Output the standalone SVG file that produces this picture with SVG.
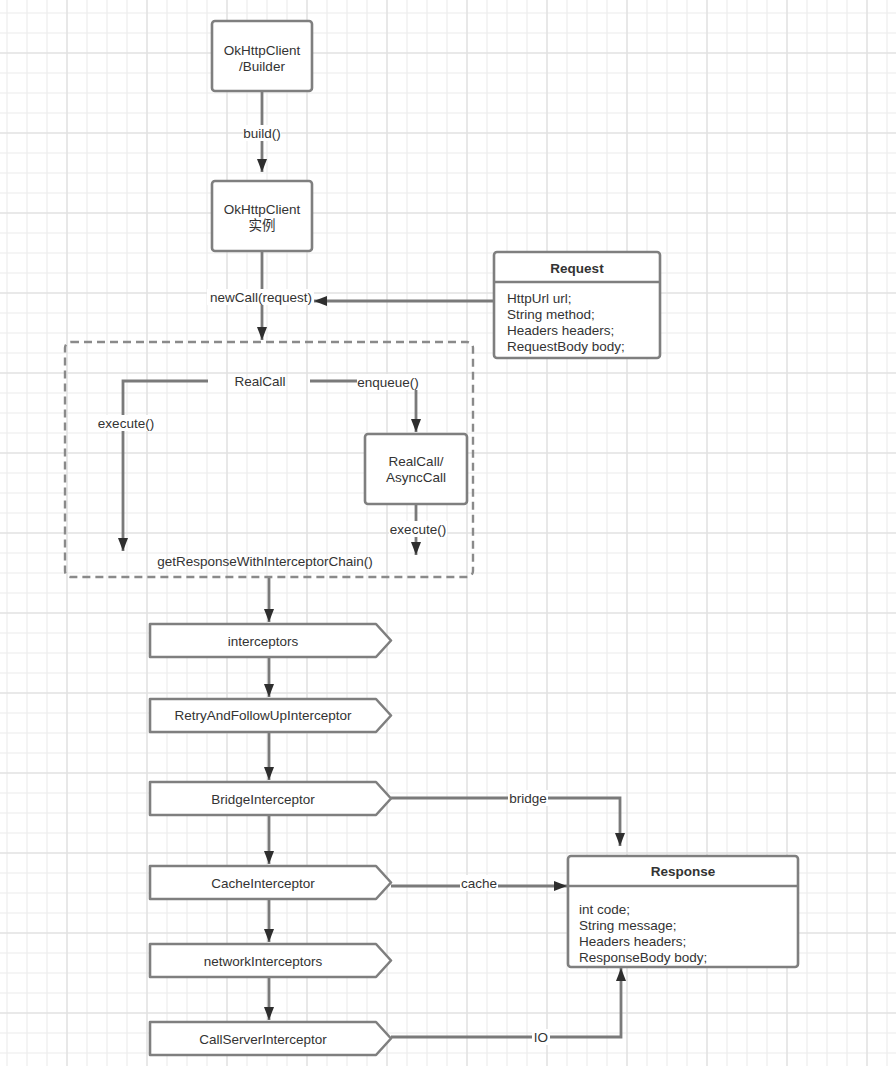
<svg xmlns="http://www.w3.org/2000/svg" width="896" height="1070" viewBox="0 0 896 1070">
<defs>
<style>
text{font-family:"Liberation Sans","Noto Sans CJK SC",sans-serif;font-size:13.5px;fill:#333}
.b{font-weight:bold}
.m{text-anchor:middle}
.box{fill:#fff;stroke:#7f7f7f;stroke-width:2.6}
.sep{stroke:#7f7f7f;stroke-width:2.6}
.dash{fill:none;stroke:#8a8a8a;stroke-width:2.4;stroke-dasharray:8 5}
.edge{fill:none;stroke:#7a7a7a;stroke-width:2.8;marker-end:url(#ah)}
.lbg{fill:#fff}
</style>
<marker id="ah" markerUnits="userSpaceOnUse" viewBox="0 0 13 10" refX="13" refY="5" markerWidth="13" markerHeight="10" orient="auto">
<path d="M0,0 L13,5 L0,10 z" fill="#2e2e2e"/>
</marker>
<pattern id="grid" patternUnits="userSpaceOnUse" x="-3" y="3" width="80" height="80">
<g stroke="#ececec" stroke-width="1.2">
<line x1="10" y1="0" x2="10" y2="80"/><line x1="30" y1="0" x2="30" y2="80"/><line x1="50" y1="0" x2="50" y2="80"/>
<line x1="0" y1="10" x2="80" y2="10"/><line x1="0" y1="30" x2="80" y2="30"/><line x1="0" y1="70" x2="80" y2="70"/>
</g>
<g stroke="#e2e2e2" stroke-width="1.6">
<line x1="70" y1="0" x2="70" y2="80"/><line x1="0" y1="50" x2="80" y2="50"/>
</g>
</pattern>
</defs>
<rect width="896" height="1070" fill="#fff"/>
<rect width="896" height="1066" fill="url(#grid)"/>

<g id="connectors">
<path class="edge" d="M262,92 V172"/>
<path class="edge" d="M262,252 V340"/>
<path class="edge" d="M493,301 H314"/>
<path class="edge" d="M208,381 H123 V551"/>
<path class="edge" d="M310,381 H416 V432"/>
<path class="edge" d="M416,505 V555"/>
<path class="edge" d="M269,578 V622"/>
<path class="edge" d="M269,657 V697"/>
<path class="edge" d="M269,732 V780"/>
<path class="edge" d="M269,815 V864"/>
<path class="edge" d="M269,899 V942"/>
<path class="edge" d="M269,977 V1020"/>
<path class="edge" d="M391,798 H620 V846"/>
<path class="edge" d="M391,886 H567"/>
<path class="edge" d="M391,1037 H621 V968"/>
<g id="edge-labels">
<rect class="lbg" x="243" y="125" width="38" height="16"/><text class="m" x="262" y="137.5">build()</text>
<rect class="lbg" x="207" y="289" width="107" height="16"/><text class="m" x="261" y="301.5">newCall(request)</text>
<rect class="lbg" x="97" y="415" width="58" height="16"/><text class="m" x="126" y="427.5">execute()</text>
<rect class="lbg" x="357" y="374" width="62" height="16"/><text class="m" x="388" y="387">enqueue()</text>
<rect class="lbg" x="389" y="521" width="58" height="16"/><text class="m" x="418" y="533.5">execute()</text>
<rect class="lbg" x="508" y="790" width="40" height="16"/><text class="m" x="528" y="802.5">bridge</text>
<rect class="lbg" x="460" y="875" width="38" height="16"/><text class="m" x="479" y="887.5">cache</text>
<rect class="lbg" x="532" y="1029" width="18" height="16"/><text class="m" x="541" y="1042">IO</text>
</g>
</g>

<g id="builder">
<rect class="box" x="212" y="21" width="100" height="70" rx="3"/>
<text class="m" x="262" y="54.5">OkHttpClient</text>
<text class="m" x="262" y="70.5">/Builder</text>
</g>
<g id="client">
<rect class="box" x="212" y="181" width="100" height="70" rx="3"/>
<text class="m" x="262" y="214">OkHttpClient</text>
<text class="m" x="262" y="230">实例</text>
</g>
<g id="request">
<rect class="box" x="494" y="252" width="166" height="106" rx="3"/>
<line class="sep" x1="494" y1="282" x2="660" y2="282"/>
<text class="m b" x="577" y="272.5">Request</text>
<text x="507" y="302.5">HttpUrl url;</text>
<text x="507" y="318.5">String method;</text>
<text x="507" y="334.5">Headers headers;</text>
<text x="507" y="350.5">RequestBody body;</text>
</g>
<g id="call-group">
<rect class="dash" x="65" y="342" width="408" height="235" rx="6"/>
<text class="m" x="265" y="565.5">getResponseWithInterceptorChain()</text>
</g>
<g id="realcall">
<text class="m" x="260" y="386">RealCall</text>
</g>
<g id="asynccall">
<rect class="box" x="365" y="434" width="102" height="70" rx="3"/>
<text class="m" x="416" y="466">RealCall/</text>
<text class="m" x="416" y="481.5">AsyncCall</text>
</g>
<g id="interceptors">
<path class="box" stroke-linejoin="round" d="M150,624 H376 L391,640.5 L376,657 H150 Z"/>
<text class="m" x="263" y="645.5">interceptors</text>
</g>
<g id="retry">
<path class="box" stroke-linejoin="round" d="M150,699 H376 L391,715.5 L376,732 H150 Z"/>
<text class="m" x="263" y="720">RetryAndFollowUpInterceptor</text>
</g>
<g id="bridge">
<path class="box" stroke-linejoin="round" d="M150,782 H376 L391,798.5 L376,815 H150 Z"/>
<text class="m" x="263" y="803.5">BridgeInterceptor</text>
</g>
<g id="cache">
<path class="box" stroke-linejoin="round" d="M150,866 H376 L391,882.5 L376,899 H150 Z"/>
<text class="m" x="263" y="887.5">CacheInterceptor</text>
</g>
<g id="network">
<path class="box" stroke-linejoin="round" d="M150,944 H376 L391,960.5 L376,977 H150 Z"/>
<text class="m" x="263" y="965.5">networkInterceptors</text>
</g>
<g id="callserver">
<path class="box" stroke-linejoin="round" d="M150,1022 H376 L391,1038.5 L376,1055 H150 Z"/>
<text class="m" x="263" y="1043.5">CallServerInterceptor</text>
</g>
<g id="response">
<rect class="box" x="568" y="856" width="230" height="111" rx="3"/>
<line class="sep" x1="568" y1="886" x2="798" y2="886"/>
<text class="m b" x="683" y="876">Response</text>
<text x="579" y="914">int code;</text>
<text x="579" y="930">String message;</text>
<text x="579" y="946">Headers headers;</text>
<text x="579" y="962">ResponseBody body;</text>
</g>
</svg>
